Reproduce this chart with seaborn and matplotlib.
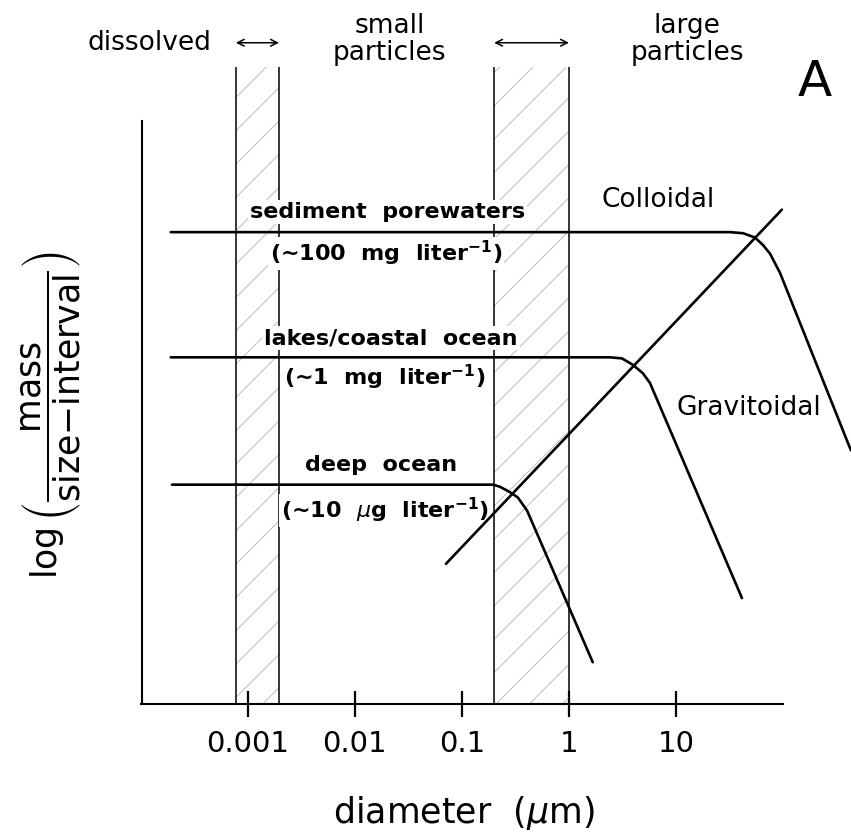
import pandas as pd
import matplotlib.pyplot as plt
import seaborn as sns
from matplotlib.ticker import NullLocator

# size spectra: diameter (um) vs log(mass / size-interval), arbitrary units
sediment_d = [1.9e-4, 32, 42.3, 54.7, 65, 75.6, 93.8, 432]
sediment_y = [4.41, 4.41, 4.40, 4.36, 4.29, 4.21, 4.03, 2.37]
lakes_d = [1.9e-4, 2.41, 3.13, 3.96, 4.92, 5.72, 41.4]
lakes_y = [3.24, 3.24, 3.23, 3.17, 3.09, 3.00, 0.99]
deep_d = [1.95e-4, 0.195, 0.227, 0.281, 0.333, 0.405, 0.536, 1.67]
deep_y = [2.05, 2.05, 2.03, 1.98, 1.93, 1.81, 1.53, 0.39]
settling_d = [0.0709, 97.7]
settling_y = [1.31, 4.62]

# hatched transition bands (um)
band_lo = [7.7e-4, 0.2]
band_hi = [1.95e-3, 1.0]
band_top = 5.95

tick_vals = [0.001, 0.01, 0.1, 1, 10]
tick_labels = ['0.001', '0.01', '0.1', '1', '10']

curves = pd.concat([
    pd.DataFrame({'d': sediment_d, 'y': sediment_y, 'curve': 'sediment'}),
    pd.DataFrame({'d': lakes_d, 'y': lakes_y, 'curve': 'lakes'}),
    pd.DataFrame({'d': deep_d, 'y': deep_y, 'curve': 'deep'}),
    pd.DataFrame({'d': settling_d, 'y': settling_y, 'curve': 'settling'}),
], ignore_index=True)

sns.set_style('ticks')
plt.rcParams['font.family'] = ['DejaVu Sans']
plt.rcParams['hatch.linewidth'] = 0.7
plt.rcParams['text.color'] = 'black'
plt.rcParams['axes.labelcolor'] = 'black'
plt.rcParams['axes.edgecolor'] = 'black'
plt.rcParams['xtick.color'] = 'black'
plt.rcParams['xtick.labelcolor'] = 'black'

fig = plt.figure(figsize=(8.51, 8.36), dpi=100)
ax = fig.add_axes([142 / 851, 132 / 836, 709 / 851, 704 / 836])
ax.set_xscale('log')
ax.set_xlim(10 ** -3.99, 10 ** 2.636)
ax.set_ylim(0, 704 / 107)

# hatched bands
for lo, hi in zip(band_lo, band_hi):
    ax.fill_between([lo, hi], 0, band_top, facecolor='none', edgecolor='#bdbdbd',
                    hatch='/', linewidth=0, zorder=1)
    ax.vlines([lo, hi], 0, band_top, color='black', lw=1.1, zorder=1.5)

sns.lineplot(data=curves, x='d', y='y', units='curve', estimator=None, sort=False,
             color='black', lw=1.9, ax=ax, zorder=4, legend=False)

box = dict(facecolor='white', edgecolor='none', pad=1.5)
inner = [
    ('sediment  porewaters', 0.0203, 4.60),
    ('(\u223c100  mg  liter$^{\\mathbf{-1}}$)', 0.0195, 4.21),
    ('lakes/coastal  ocean', 0.0217, 3.42),
    ('(\u223c1  mg  liter$^{\\mathbf{-1}}$)', 0.019, 3.05),
    ('deep  ocean', 0.0175, 2.23),
    ('(\u223c10  $\\mu$g  liter$^{\\mathbf{-1}}$)', 0.019, 1.81),
]
for txt, x, y in inner:
    ax.text(x, y, txt, ha='center', va='center', fontsize=16, fontweight='bold',
            bbox=box, zorder=3)

ax.text(6.8, 4.71, 'Colloidal', ha='center', va='center', fontsize=19)
ax.text(48, 2.77, 'Gravitoidal', ha='center', va='center', fontsize=19)

# size class labels across the top
ax.text(1.21e-4, 6.18, 'dissolved', ha='center', va='center', fontsize=19)
ax.text(0.0212, 6.21, 'small\nparticles', ha='center', va='center', fontsize=19,
        linespacing=1.05)
ax.text(12.7, 6.21, 'large\nparticles', ha='center', va='center', fontsize=19,
        linespacing=1.05)
for lo, hi in zip(band_lo, band_hi):
    ax.annotate('', xy=(hi, 6.18), xytext=(lo, 6.18),
                arrowprops=dict(arrowstyle='<->', lw=1.1, color='black',
                                shrinkA=0, shrinkB=0, mutation_scale=12))
ax.text(199, 5.81, 'A', ha='center', va='center', fontsize=36)

# axes styling
for side in ['top', 'right']:
    ax.spines[side].set_visible(False)
ax.spines['left'].set_bounds(0, 5.45)
ax.spines['bottom'].set_bounds(1e-4, 100)
ax.spines['left'].set_linewidth(1.5)
ax.spines['bottom'].set_linewidth(1.5)
ax.set_xticks(tick_vals)
ax.set_xticklabels(tick_labels)
ax.xaxis.set_minor_locator(NullLocator())
ax.tick_params(axis='x', direction='inout', length=19, width=1.6, labelsize=21, pad=9)
ax.set_yticks([])

ax.set_xlabel(r'diameter  ($\mu$m)', fontsize=25)
ax.xaxis.set_label_coords(0.454, -0.155)
ax.xaxis.label.set_va('center')
ax.set_ylabel(r'$\log\left(\dfrac{\mathrm{mass}}{\mathrm{size{-}interval}}\right)$', fontsize=25)
ax.yaxis.set_label_coords(-0.128, 0.41)
ax.yaxis.label.set_va('center')

fig.savefig('out.png', dpi=100)
